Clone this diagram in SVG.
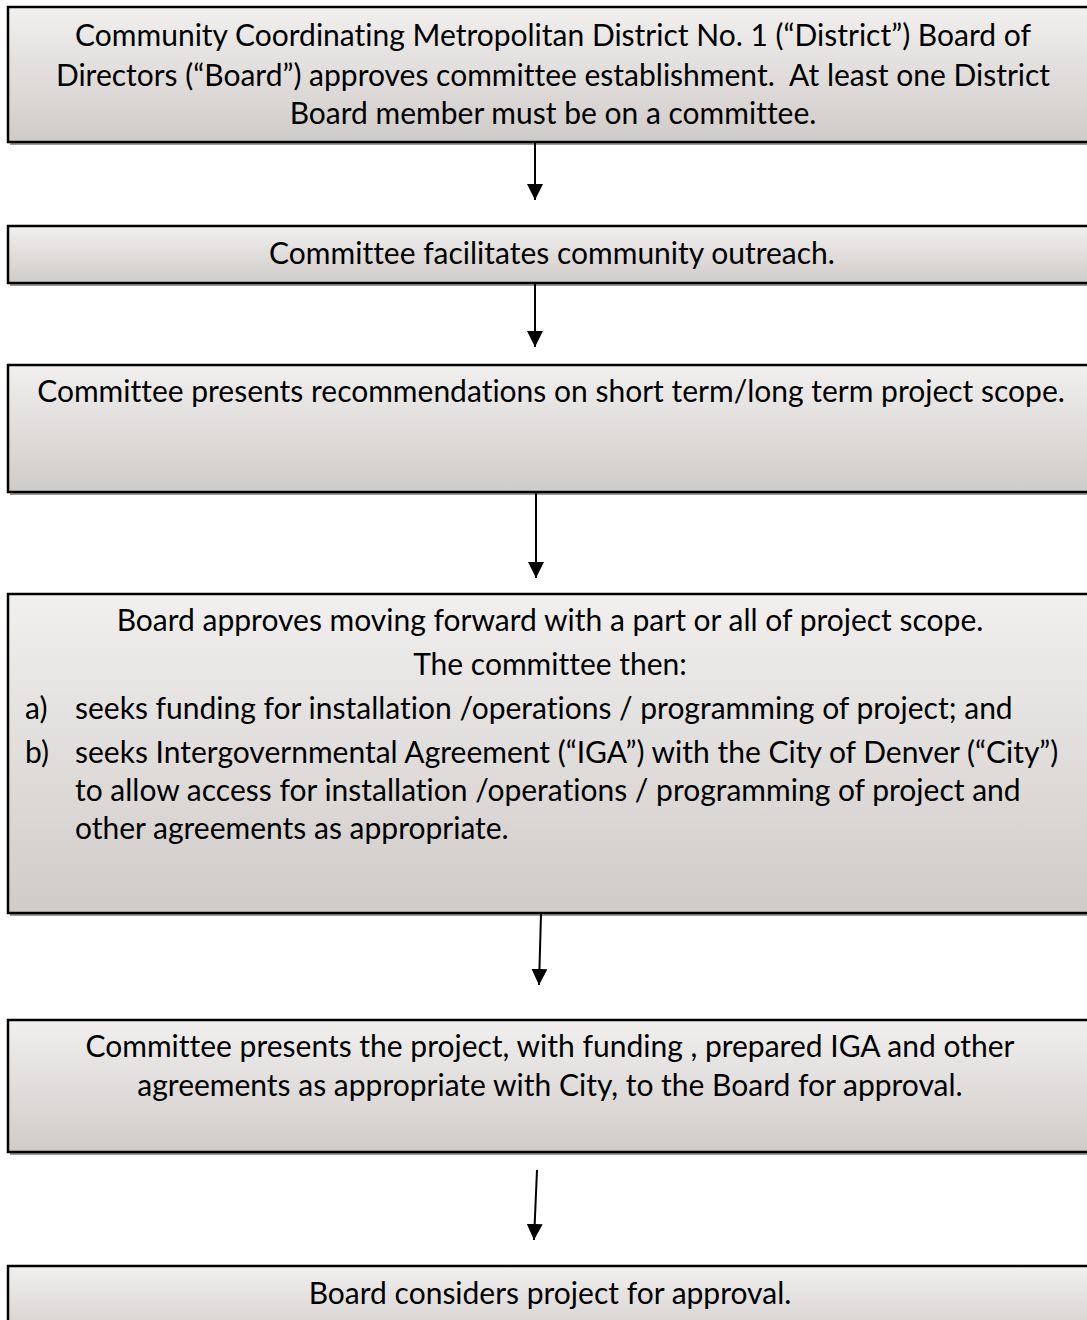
<svg xmlns="http://www.w3.org/2000/svg" width="1087" height="1320" viewBox="0 0 1087 1320">
<style>
.box{fill:url(#g);stroke:#000;stroke-width:2.5}
.sh{fill:none;stroke:#9a9a9a;stroke-width:2}
text{font-family:Lato,"Open Sans",sans-serif;font-size:30px;fill:#000;font-variant-ligatures:none;white-space:pre}
.c{text-anchor:middle}
.con{stroke:#000;stroke-width:2;fill:none;marker-end:url(#ah)}
</style>
<defs>
<linearGradient id="g" x1="0" y1="0" x2="0" y2="1">
<stop offset="0" stop-color="#f1f0ef"/>
<stop offset="1" stop-color="#cfcbc8"/>
</linearGradient>
<marker id="ah" viewBox="0 0 16 16" refX="16" refY="8" markerWidth="16" markerHeight="16" markerUnits="userSpaceOnUse" orient="auto">
<path d="M0,0 L16,8 L0,16 Z" fill="#000"/>
</marker>
</defs>
<rect width="1087" height="1320" fill="#fff"/>
<g id="n1">
<path class="sh" d="M10,144 H1100"/>
<rect class="box" x="8" y="7" width="1090" height="135"/>
<text class="c" x="553" y="46">Community Coordinating Metropolitan District No. 1 (“District”) Board of</text>
<text class="c" x="553" y="86">Directors (“Board”) approves committee establishment.  At least one District</text>
<text class="c" x="553" y="124">Board member must be on a committee.</text>
</g>
<g id="n2">
<path class="sh" d="M10,285 H1100"/>
<rect class="box" x="8" y="226" width="1090" height="57"/>
<text class="c" x="552" y="264">Committee facilitates community outreach.</text>
</g>
<g id="n3">
<path class="sh" d="M10,494 H1100"/>
<rect class="box" x="8" y="365" width="1090" height="127"/>
<text class="c" x="551" y="402">Committee presents recommendations on short term/long term project scope.</text>
</g>
<g id="n4">
<path class="sh" d="M10,915 H1100"/>
<rect class="box" x="8" y="594" width="1090" height="319"/>
<text class="c" x="550" y="631">Board approves moving forward with a part or all of project scope.</text>
<text class="c" x="550" y="675">The committee then:</text>
<text x="25" y="719">a)</text>
<text x="75" y="719">seeks funding for installation /operations / programming of project; and</text>
<text x="25" y="763">b)</text>
<text x="75" y="763">seeks Intergovernmental Agreement (“IGA”) with the City of Denver (“City”)</text>
<text x="75" y="801">to allow access for installation /operations / programming of project and</text>
<text x="75" y="839">other agreements as appropriate.</text>
</g>
<g id="n5">
<path class="sh" d="M10,1154 H1100"/>
<rect class="box" x="8" y="1020" width="1090" height="132"/>
<text class="c" x="550" y="1057">Committee presents the project, with funding , prepared IGA and other</text>
<text class="c" x="550" y="1096">agreements as appropriate with City, to the Board for approval.</text>
</g>
<g id="n6">
<rect class="box" x="8" y="1266" width="1090" height="80"/>
<text class="c" x="550" y="1304">Board considers project for approval.</text>
</g>
<g id="connectors">
<path class="con" d="M535,143 L535,200"/>
<path class="con" d="M535,284 L535,347"/>
<path class="con" d="M536,493 L536,578"/>
<path class="con" d="M541,914 L539,985"/>
<path class="con" d="M537,1170 L534,1240"/>
</g>
</svg>
